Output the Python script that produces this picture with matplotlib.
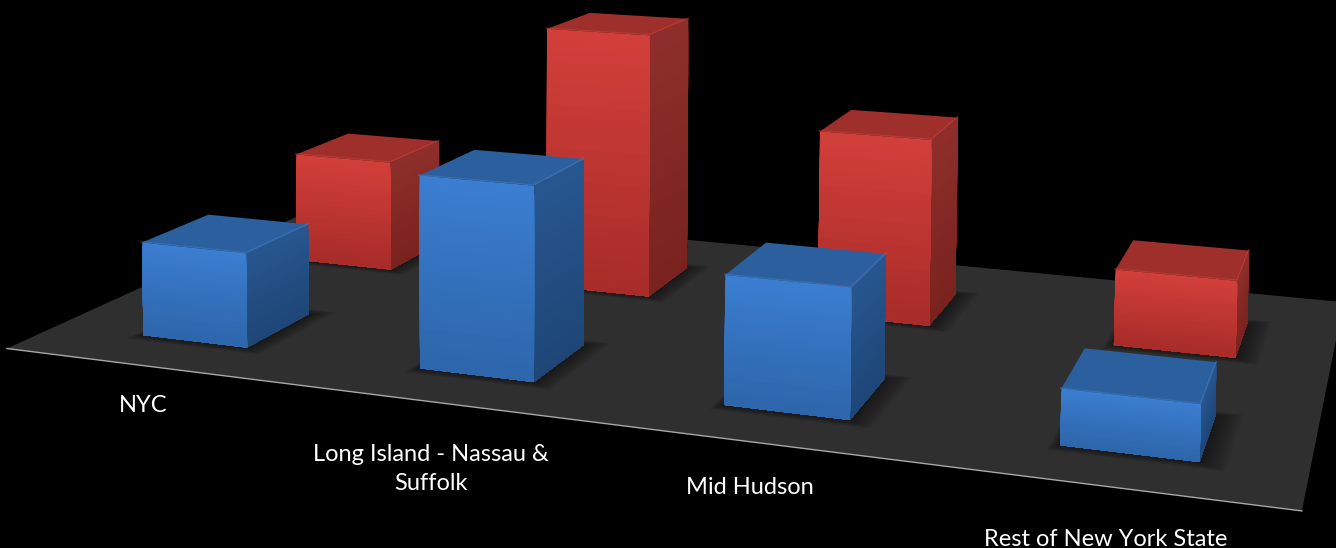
import matplotlib
matplotlib.use('Agg')
import matplotlib.pyplot as plt
import numpy as np
from mpl_toolkits.mplot3d.art3d import Poly3DCollection
from matplotlib.colors import to_rgb

plt.rcParams['font.family'] = ['Lato', 'DejaVu Sans']

categories = ['NYC', 'Long Island - Nassau &\nSuffolk', 'Mid Hudson', 'Rest of New York State']
blue_vals = [28.8, 57.1, 36.8, 15.3]
red_vals = [36.9, 86.1, 58.9, 23.4]

label_x = [143, 431, 750, 1106]
label_y = [406, 469, 487, 539]

W, H = 1336, 548
# camera fitted to the floor corners and bar corners of the reference
SCALE = 8827.0
TX, TY = 707.7, -154.3
side_px = SCALE * 0.185
left_px = TX - 0.095 * SCALE
bottom_px = H - (TY + 0.095 * SCALE)

fig = plt.figure(figsize=(W / 100, H / 100), dpi=100, facecolor='black')
ax = fig.add_axes([left_px / W, bottom_px / H, side_px / W, side_px / H], projection='3d', computed_zorder=False)
ax.patch.set_visible(False)
ax.set_axis_off()
ax.set_proj_type('persp', focal_length=0.249)
ax.view_init(elev=4.335, azim=-71.028, roll=-0.417)
ax.set_box_aspect((1.249, 0.640, 1.0))
ax.set_xlim(0, 4)
ax.set_ylim(0, 2)
ax.set_zlim(0, 300)


def add_poly(verts, color, zo, lw=0):
    ax.add_collection3d(Poly3DCollection(verts, facecolors=[color], edgecolors=[color], linewidths=lw, zorder=zo),
                        autolim=False)


add_poly([[(0, 0, 0), (4, 0, 0), (4, 2, 0), (0, 2, 0)]], '#2f2f2f', 0)
ax.plot([0, 4], [0, 0], [0, 0], color='#a8a8a8', lw=1.0, zorder=1)


def mix(c1, c2, n):
    a, b = np.array(to_rgb(c1)), np.array(to_rgb(c2))
    return [tuple(a + (b - a) * t) for t in np.linspace(0, 1, n)]


def shadow(x0, y0, w, d):
    for k in range(10, 0, -1):
        m = 0.005 * k
        q = [[(x0 - m * 0.6, y0 - m, 0), (x0 + w + m * 1.5, y0 - m, 0),
              (x0 + w + m * 1.5, y0 + d + m, 0), (x0 - m * 0.6, y0 + d + m, 0)]]
        add_poly(q, (0, 0, 0, 0.05), 2)


def draw_bar(x0, y0, w, d, h, front, side, top, edge, zo):
    n = 24
    zs = np.linspace(h, 0, n + 1)
    fc = mix(front[0], front[1], n)
    sc = mix(side[0], side[1], n)
    # each strip runs down to the floor and the next one paints over it, so no seams show
    for i in range(n):
        z1 = zs[i]
        add_poly([[(x0 + w, y0, 0), (x0 + w, y0 + d, 0), (x0 + w, y0 + d, z1), (x0 + w, y0, z1)]], sc[i], zo + 0.001 * i)
        add_poly([[(x0, y0, 0), (x0 + w, y0, 0), (x0 + w, y0, z1), (x0, y0, z1)]], fc[i], zo + 0.1 + 0.001 * i)
    add_poly([[(x0, y0, h), (x0 + w, y0, h), (x0 + w, y0 + d, h), (x0, y0 + d, h)]], top, zo + 0.2)
    ax.plot([x0, x0 + w, x0 + w], [y0, y0, y0 + d], [h, h, h], color=edge, lw=1.3, alpha=0.4, zorder=zo + 0.3)


bar_x = 0.320
bar_w = 0.386
bar_d = 0.389
blue_y = 0.271
red_y = 1.245
for i in range(4):
    shadow(i + bar_x, red_y, bar_w, bar_d)
    shadow(i + bar_x, blue_y, bar_w, bar_d)

for i, v in enumerate(red_vals):
    draw_bar(i + bar_x, red_y, bar_w, bar_d, v, ('#d23f3a', '#a82c29'), ('#8e2e2a', '#79231f'), '#9e2f2b', '#d8483f', 5 + i)
for i, v in enumerate(blue_vals):
    draw_bar(i + bar_x, blue_y, bar_w, bar_d, v, ('#3b7dd0', '#2d66ab'), ('#27568f', '#1f4677'), '#2b5f9d', '#4385d6', 15 + i)

for name, lx, ly in zip(categories, label_x, label_y):
    fig.text(lx / W, 1 - ly / H, name, color='white', fontsize=17.0, ha='center', va='center', linespacing=1.45)

fig.savefig('out.png', dpi=100, facecolor='black')
